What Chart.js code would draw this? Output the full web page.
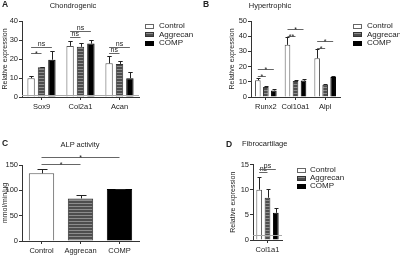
<!DOCTYPE html>
<html>
<head>
<meta charset="utf-8">
<script src="https://cdn.jsdelivr.net/npm/chart.js@4.4.0/dist/chart.umd.min.js"></script>
<style>
html, body { margin: 0; padding: 0; background: #fff; }
body { width: 400px; height: 255px; position: relative; overflow: hidden;
       font-family: "Liberation Sans", Arial, sans-serif; color: #222; }
#page { position: absolute; left: 0; top: 0; width: 400px; height: 255px; filter: grayscale(1); }
canvas { position: absolute; }
.txt { position: absolute; white-space: nowrap; font-size: 8px; line-height: 10px; }
.title { font-size: 7.5px; }
.letter { font-weight: bold; font-size: 8.5px; }
.center { text-align: center; width: 100px; }
.box { position: absolute; width: 9px; height: 5px; box-sizing: border-box; border: 1px solid #333; }
.b-control { background: #fff; border-color: #666; }
.b-aggrecan { background: repeating-linear-gradient(to bottom, #8c8c8c 0, #8c8c8c 1px, #4d4d4d 1px, #4d4d4d 3px); }
.b-comp { background: #000; border-color: #000; }
</style>
</head>
<body>
<div id="page">
<div class="txt letter" style="left:2px;top:-1px;">A</div>
<div class="txt letter" style="left:203px;top:-1px;">B</div>
<div class="txt letter" style="left:2px;top:138px;">C</div>
<div class="txt letter" style="left:226px;top:139px;">D</div>

<div class="txt title center" style="left:23px;top:1px;">Chondrogenic</div>
<div class="txt title center" style="left:220px;top:1px;">Hypertrophic</div>
<div class="txt title center" style="left:30px;top:140px;">ALP activity</div>
<div class="txt title" style="left:242px;top:139px;">Fibrocartilage</div>

<div id="legendA"></div>
<div id="legendB"></div>
<div id="legendD"></div>

<canvas id="chartA" width="142" height="120" style="left:0;top:0;"></canvas>
<canvas id="chartB" width="117" height="120" style="left:225px;top:0;"></canvas>
<canvas id="chartC" width="142" height="115" style="left:0;top:140px;"></canvas>
<canvas id="chartD" width="60" height="115" style="left:225px;top:140px;"></canvas>
</div>
<script>
var seriesNames = ['Control', 'Aggrecan', 'COMP'];

// A - chondrogenic markers
var chondroGenes = ['Sox9', 'Col2a1', 'Acan'];
var chondroControl = [9.9, 26.9, 17.7];
var chondroAggrecan = [15.6, 26.4, 17.4];
var chondroComp = [19.6, 28.1, 9.9];
var chondroControlErr = [1.4, 2.6, 4.0];
var chondroAggrecanErr = [0.4, 1.9, 1.7];
var chondroCompErr = [4.4, 1.9, 3.5];
var chondroTicks = [0, 10, 20, 30, 40];
// [gene, from series, to series, level, label]
var chondroSig = [[0, 0, 1, 23.1, '*'], [0, 0, 2, 26.2, 'ns'],
                  [1, 0, 1, 31.5, 'ns'], [1, 0, 2, 34.5, 'ns'],
                  [2, 0, 1, 23.0, 'ns'], [2, 0, 2, 26.1, 'ns']];

// B - hypertrophic markers
var hyperGenes = ['Runx2', 'Col10a1', 'Alpl'];
var hyperControl = [11.0, 34.3, 25.5];
var hyperAggrecan = [6.5, 10.5, 8.1];
var hyperComp = [4.3, 10.8, 13.2];
var hyperControlErr = [1.5, 5.0, 6.0];
var hyperAggrecanErr = [1.0, 1.0, 0.3];
var hyperCompErr = [1.0, 1.3, 0.9];
var hyperTicks = [0, 10, 20, 30, 40, 50];
var hyperSig = [[0, 0, 1, 13.9, '*'], [0, 0, 2, 18.1, '*'],
                [1, 0, 1, 40.0, '**'], [1, 0, 2, 44.8, '*'],
                [2, 0, 1, 32.1, '*'], [2, 0, 2, 37.0, '*']];

// C - ALP activity
var alpGroups = ['Control', 'Aggrecan', 'COMP'];
var alpMean = [133.5, 84, 102.5];
var alpErr = [8.5, 6.7, 1.0];
var alpTicks = [0, 50, 100, 150];
// [from group, to group, level, label]
var alpSig = [[0, 1, 151.6, '*'], [0, 2, 165.5, '*']];

// D - fibrocartilage marker
var fibroGenes = ['Col1a1'];
var fibroControl = [10.0];
var fibroAggrecan = [8.4];
var fibroComp = [5.4];
var fibroControlErr = [2.6];
var fibroAggrecanErr = [1.7];
var fibroCompErr = [0.9];
var fibroTicks = [0, 5, 10, 15];
var fibroSig = [[0, 0, 1, 13.45, 'ns'], [0, 0, 2, 14.2, 'ns']];

var FONT = '"Liberation Sans", Arial, sans-serif';

// horizontal stripes for the aggrecan bars
function stripePattern() {
    var c = document.createElement('canvas');
    c.width = 4; c.height = 3;
    var g = c.getContext('2d');
    g.fillStyle = '#4d4d4d';
    g.fillRect(0, 0, 4, 3);
    g.fillStyle = '#8c8c8c';
    g.fillRect(0, 0, 4, 1);
    return g.createPattern(c, 'repeat');
}
var stripes = stripePattern();

var errorBarPlugin = {
    id: 'errorBars',
    afterDatasetsDraw: function(chart) {
        var ctx = chart.ctx, yScale = chart.scales.y;
        ctx.save();
        ctx.strokeStyle = '#222';
        ctx.lineWidth = 1;
        chart.data.datasets.forEach(function(ds, di) {
            var meta = chart.getDatasetMeta(di);
            meta.data.forEach(function(bar, i) {
                var top = Math.round(yScale.getPixelForValue(ds.data[i] + ds.errors[i])) + 0.5;
                var half = Math.max(2, Math.min(5, bar.width * 0.3));
                var x = Math.round(bar.x) + 0.5;
                ctx.beginPath();
                ctx.moveTo(x, bar.y);
                ctx.lineTo(x, top);
                ctx.moveTo(x - half, top);
                ctx.lineTo(x + half, top);
                ctx.stroke();
            });
        });
        ctx.restore();
    }
};

var refLinePlugin = {
    id: 'refLine',
    afterDatasetsDraw: function(chart, args, opts) {
        if (opts.value === undefined) return;
        var ctx = chart.ctx, area = chart.chartArea;
        var y = Math.round(chart.scales.y.getPixelForValue(opts.value)) + 0.5;
        ctx.save();
        ctx.strokeStyle = '#aaa';
        ctx.lineWidth = 1;
        ctx.beginPath();
        ctx.moveTo(area.left, y);
        ctx.lineTo(area.right, y);
        ctx.stroke();
        ctx.restore();
    }
};

var bracketPlugin = {
    id: 'sigBrackets',
    afterDraw: function(chart, args, opts) {
        if (!opts.list) return;
        var ctx = chart.ctx, yScale = chart.scales.y;
        ctx.save();
        ctx.strokeStyle = '#666';
        ctx.fillStyle = '#222';
        ctx.lineWidth = 1;
        ctx.font = '7px ' + FONT;
        ctx.textAlign = 'center';
        ctx.textBaseline = 'alphabetic';
        opts.list.forEach(function(b) {
            var a = chart.getDatasetMeta(b.from[0]).data[b.from[1]];
            var z = chart.getDatasetMeta(b.to[0]).data[b.to[1]];
            var y = Math.round(yScale.getPixelForValue(b.level)) + 0.5;
            ctx.beginPath();
            ctx.moveTo(a.x, y);
            ctx.lineTo(z.x, y);
            ctx.stroke();
            ctx.fillText(b.text, (a.x + z.x) / 2, y - (b.text.indexOf('*') >= 0 ? -2 : 1.5));
        });
        ctx.restore();
    }
};

function groupedBrackets(list) {
    return list.map(function(r) {
        return { from: [r[1], r[0]], to: [r[2], r[0]], level: r[3], text: r[4] };
    });
}

function axisGrid() {
    return { display: true, drawOnChartArea: false, drawTicks: true, tickLength: 3,
             color: '#333', lineWidth: 1, offset: false };
}

function buildOptions(cfg) {
    return {
        responsive: false,
        animation: false,
        devicePixelRatio: 1,
        layout: { padding: cfg.padding },
        plugins: {
            legend: { display: false },
            tooltip: { enabled: false },
            title: { display: false },
            sigBrackets: { list: cfg.brackets },
            refLine: { value: cfg.refLine }
        },
        scales: {
            x: {
                offset: true,
                grid: axisGrid(),
                border: { display: true, color: '#333', width: 1 },
                ticks: { color: '#222', font: { family: FONT, size: 7.5 }, padding: 2.5,
                         maxRotation: 0, autoSkip: false },
                afterFit: function(s) { s.height = cfg.xHeight; }
            },
            y: {
                min: 0,
                max: cfg.ticks[cfg.ticks.length - 1],
                afterBuildTicks: function(s) {
                    s.ticks = cfg.ticks.map(function(v) { return { value: v }; });
                },
                grid: axisGrid(),
                border: { display: true, color: '#333', width: 1 },
                ticks: { color: '#222', font: { family: FONT, size: 7.5 }, padding: 1 },
                title: { display: true, text: cfg.yTitle, color: '#222',
                         font: { family: FONT, size: 7 },
                         padding: { top: cfg.titlePad, bottom: 0 } },
                afterFit: function(s) { s.width = cfg.yWidth; }
            }
        }
    };
}

function groupedData(labels, ctrl, agg, comp, ctrlErr, aggErr, compErr, catPct, barPct) {
    var common = { borderWidth: 1, categoryPercentage: catPct, barPercentage: barPct };
    return {
        labels: labels,
        datasets: [
            Object.assign({ label: seriesNames[0], data: ctrl, errors: ctrlErr,
                            backgroundColor: '#fff', borderColor: '#555' }, common),
            Object.assign({ label: seriesNames[1], data: agg, errors: aggErr,
                            backgroundColor: stripes, borderColor: '#333' }, common),
            Object.assign({ label: seriesNames[2], data: comp, errors: compErr,
                            backgroundColor: '#000', borderColor: '#000' }, common)
        ]
    };
}

var plugins = [errorBarPlugin, refLinePlugin, bracketPlugin];

new Chart(document.getElementById('chartA'), {
    type: 'bar',
    data: groupedData(chondroGenes, chondroControl, chondroAggrecan, chondroComp,
                      chondroControlErr, chondroAggrecanErr, chondroCompErr, 0.8, 0.71),
    options: buildOptions({ padding: { left: 0, top: 21, right: 3, bottom: 0 },
                            yWidth: 22, xHeight: 23, ticks: chondroTicks, titlePad: 1,
                            yTitle: 'Relative expression', refLine: 1,
                            brackets: groupedBrackets(chondroSig) }),
    plugins: plugins
});

new Chart(document.getElementById('chartB'), {
    type: 'bar',
    data: groupedData(hyperGenes, hyperControl, hyperAggrecan, hyperComp,
                      hyperControlErr, hyperAggrecanErr, hyperCompErr, 0.81, 0.7),
    options: buildOptions({ padding: { left: 0, top: 21, right: 2, bottom: 0 },
                            yWidth: 26, xHeight: 23, ticks: hyperTicks, titlePad: 2.5,
                            yTitle: 'Relative expression',
                            brackets: groupedBrackets(hyperSig) }),
    plugins: plugins
});

new Chart(document.getElementById('chartC'), {
    type: 'bar',
    data: {
        labels: alpGroups,
        datasets: [{
            label: 'ALP activity',
            data: alpMean,
            errors: alpErr,
            backgroundColor: ['#fff', stripes, '#000'],
            borderColor: ['#555', '#333', '#000'],
            borderWidth: 1,
            categoryPercentage: 1,
            barPercentage: 0.65
        }]
    },
    options: buildOptions({ padding: { left: 0, top: 25, right: 3, bottom: 0 },
                            yWidth: 22, xHeight: 14, ticks: alpTicks, titlePad: 1,
                            yTitle: 'mmol/min/µg',
                            brackets: alpSig.map(function(r) {
                                return { from: [0, r[0]], to: [0, r[1]], level: r[2], text: r[3] };
                            }) }),
    plugins: plugins
});

new Chart(document.getElementById('chartD'), {
    type: 'bar',
    data: groupedData(fibroGenes, fibroControl, fibroAggrecan, fibroComp,
                      fibroControlErr, fibroAggrecanErr, fibroCompErr, 0.86, 0.69),
    options: buildOptions({ padding: { left: 0, top: 24.5, right: 3, bottom: 0 },
                            yWidth: 28, xHeight: 15, ticks: fibroTicks, titlePad: 3.5,
                            yTitle: 'Relative expression', refLine: 1,
                            brackets: groupedBrackets(fibroSig) }),
    plugins: plugins
});

// legends as plain text next to each grouped panel
var boxClasses = ['b-control', 'b-aggrecan', 'b-comp'];
function drawLegend(id, boxLeft, textLeft, rows) {
    var el = document.getElementById(id);
    var html = '';
    for (var i = 0; i < seriesNames.length; i++) {
        html += '<div class="box ' + boxClasses[i] + '" style="left:' + boxLeft + 'px;top:' + (rows[i] - 2.5) + 'px;"></div>';
        html += '<div class="txt" style="left:' + textLeft + 'px;top:' + (rows[i] - 5) + 'px;">' + seriesNames[i] + '</div>';
    }
    el.innerHTML = html;
}
drawLegend('legendA', 145, 159, [26, 34.5, 43]);
drawLegend('legendB', 353, 367, [26, 34.5, 43]);
drawLegend('legendD', 297, 310, [170, 178, 186]);
</script>
</body>
</html>
